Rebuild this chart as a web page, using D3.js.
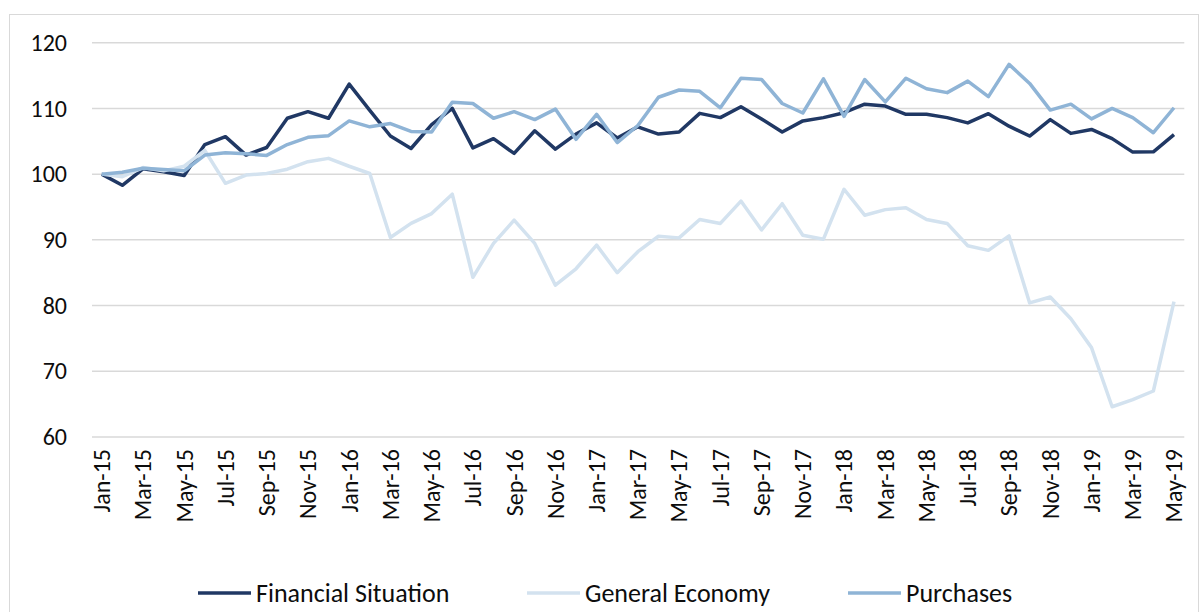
<!DOCTYPE html>
<html>
<head>
<meta charset="utf-8">
<script src="https://cdn.jsdelivr.net/npm/d3@7"></script>
<style>
  html, body { margin: 0; padding: 0; background: #fff; }
  svg { display: block; }
  text { font-family: Carlito, Lato, sans-serif; fill: #0d0d0d; }
</style>
</head>
<body>
<svg id="chart" width="1200" height="612"></svg>
<script>
const categories = [
  "Jan-15","Feb-15","Mar-15","Apr-15","May-15","Jun-15","Jul-15","Aug-15","Sep-15","Oct-15","Nov-15","Dec-15",
  "Jan-16","Feb-16","Mar-16","Apr-16","May-16","Jun-16","Jul-16","Aug-16","Sep-16","Oct-16","Nov-16","Dec-16",
  "Jan-17","Feb-17","Mar-17","Apr-17","May-17","Jun-17","Jul-17","Aug-17","Sep-17","Oct-17","Nov-17","Dec-17",
  "Jan-18","Feb-18","Mar-18","Apr-18","May-18","Jun-18","Jul-18","Aug-18","Sep-18","Oct-18","Nov-18","Dec-18",
  "Jan-19","Feb-19","Mar-19","Apr-19","May-19"
];

const financialSituation = [
  100, 98.3, 100.8, 100.35, 99.8, 104.5, 105.7, 102.9, 104.05, 108.5, 109.5, 108.5,
  113.7, 109.7, 105.8, 103.9, 107.55, 110.0, 104.0, 105.4, 103.15, 106.6, 103.8, 106.1,
  107.8, 105.5, 107.2, 106.1, 106.4, 109.25, 108.6, 110.25, 108.4, 106.4, 108.1, 108.6,
  109.35, 110.65, 110.35, 109.1, 109.1, 108.6, 107.8, 109.2, 107.3, 105.8, 108.3, 106.2,
  106.8, 105.4, 103.35, 103.4, 106.0
];

const generalEconomy = [
  100, 99.6, 101.0, 100.5, 101.2, 103.6, 98.6, 99.85, 100.1, 100.75, 101.9, 102.4,
  101.2, 100.1, 90.35, 92.5, 94.0, 96.95, 84.3, 89.45, 93.0, 89.45, 83.1, 85.6,
  89.2, 85.0, 88.2, 90.55, 90.3, 93.1, 92.5, 95.9, 91.5, 95.5, 90.7, 90.1,
  97.7, 93.75, 94.6, 94.9, 93.1, 92.5, 89.1, 88.4, 90.6, 80.4, 81.3, 78.0,
  73.6, 64.6, 65.7, 67.0, 80.6
];

const purchases = [
  100, 100.3, 100.9, 100.7, 100.5, 102.9, 103.25, 103.1, 102.85, 104.5, 105.6, 105.85,
  108.1, 107.2, 107.7, 106.5, 106.4, 110.95, 110.75, 108.5, 109.5, 108.3, 109.9, 105.3,
  109.1, 104.8, 107.4, 111.7, 112.8, 112.6, 110.1, 114.6, 114.4, 110.75, 109.3, 114.5,
  108.8, 114.4, 111.0, 114.6, 113.0, 112.4, 114.15, 111.8, 116.7, 113.8, 109.75, 110.65,
  108.4, 110.0, 108.6, 106.3, 110.1
];

const yTicks = [60, 70, 80, 90, 100, 110, 120];
const seriesNames = ["Financial Situation", "General Economy", "Purchases"];
const seriesColors = ["#203864", "#d3e2ef", "#8fb4d6"];

const series = [
  { name: seriesNames[0], values: financialSituation, color: seriesColors[0] },
  { name: seriesNames[1], values: generalEconomy, color: seriesColors[1] },
  { name: seriesNames[2], values: purchases, color: seriesColors[2] }
];

const svg = d3.select("#chart");

// outer chart border
svg.append("rect")
  .attr("x", 9.5).attr("y", 14.5)
  .attr("width", 1189).attr("height", 620)
  .attr("fill", "none").attr("stroke", "#d9d9d9").attr("stroke-width", 1);

const x = d3.scaleBand().domain(categories).range([91.4, 1184.3]);
const y = d3.scaleLinear().domain([60, 120]).range([437, 42.7]);
const cx = d => x(d) + x.bandwidth() / 2;

// gridlines
svg.append("g").selectAll("line").data(yTicks).join("line")
  .attr("x1", 92).attr("x2", 1184.3)
  .attr("y1", d => y(d)).attr("y2", d => y(d))
  .attr("stroke", "#d9d9d9").attr("stroke-width", 1.5);

// y axis
const yAxis = d3.axisLeft(y).tickValues(yTicks).tickSize(0).tickPadding(0);
const gy = svg.append("g").attr("transform", "translate(67,0)").call(yAxis);
gy.select(".domain").remove();
gy.selectAll("text").attr("font-size", 24).style("font-family", "Carlito, Lato, sans-serif").attr("fill", "#0d0d0d");

// x axis
const xAxis = d3.axisBottom(x)
  .tickValues(categories.filter((d, i) => i % 2 === 0))
  .tickSize(0).tickPadding(0);
const gx = svg.append("g").attr("transform", "translate(0,449)").call(xAxis);
gx.select(".domain").remove();
gx.selectAll("text")
  .attr("font-size", 24)
  .style("font-family", "Carlito, Lato, sans-serif")
  .attr("fill", "#0d0d0d")
  .attr("transform", "rotate(-90)")
  .attr("text-anchor", "end")
  .attr("x", 0).attr("y", 0).attr("dy", "0.35em");

// lines
const line = d3.line()
  .x((d, i) => cx(categories[i]))
  .y(d => y(d));

svg.append("g").selectAll("path").data(series).join("path")
  .attr("d", d => line(d.values))
  .attr("fill", "none")
  .attr("stroke", d => d.color)
  .attr("stroke-width", 3.5)
  .attr("stroke-linejoin", "round");

// legend
const legendX = [198, 527, 848];
const lg = svg.append("g").selectAll("g").data(series).join("g")
  .attr("transform", (d, i) => `translate(${legendX[i]},593)`);
lg.append("line").attr("x1", 0).attr("x2", 53).attr("y1", 0).attr("y2", 0)
  .attr("stroke", d => d.color).attr("stroke-width", 3.5);
lg.append("text").attr("x", 58).attr("y", 0).attr("dy", "0.35em")
  .attr("font-size", 26).text(d => d.name);
</script>
</body>
</html>
